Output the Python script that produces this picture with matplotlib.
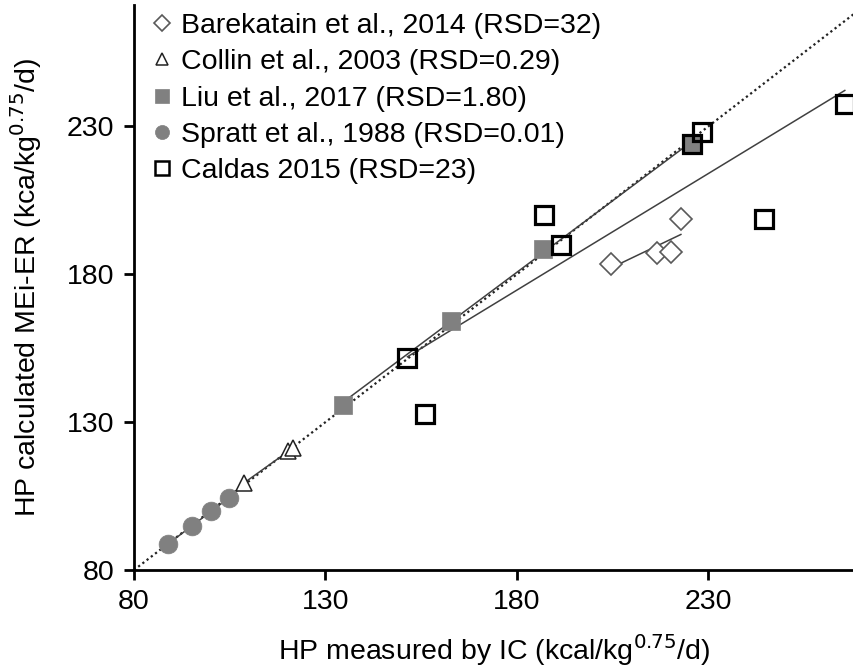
import numpy as np
import matplotlib
matplotlib.use("Agg")
import matplotlib.pyplot as plt

plt.rcParams['font.family'] = ['Liberation Sans', 'DejaVu Sans']

# measured (x) vs calculated (y), kcal/kg^0.75/d
bar_x = [204.5, 216.5, 220.1, 222.8]
bar_y = [183.6, 187.0, 187.4, 198.8]
col_x = [108.6, 120.1, 121.6]
col_y = [109.3, 120.1, 121.2]
liu_x = [134.5, 162.7, 186.7, 225.6]
liu_y = [135.9, 164.1, 188.6, 223.9]
spr_x = [88.8, 95.2, 100.0, 104.9]
spr_y = [88.7, 94.9, 99.9, 104.4]
cal_x = [151.4, 156.0, 187.0, 191.5, 225.6, 228.4, 244.6, 265.6]
cal_y = [151.7, 132.7, 200.0, 190.0, 223.9, 228.1, 198.8, 237.5]

labels = ["Barekatain et al., 2014 (RSD=32)",
          "Collin et al., 2003 (RSD=0.29)",
          "Liu et al., 2017 (RSD=1.80)",
          "Spratt et al., 1988 (RSD=0.01)",
          "Caldas 2015 (RSD=23)"]

FS = 20.5

fig = plt.figure(figsize=(8.54, 6.72), dpi=100)
ax = fig.add_axes([134 / 854, 102 / 672, 1 - 134 / 854, (570 - 5) / 672])

ax.axline((80, 80), slope=1, color='#222222', lw=1.6, ls=(0, (1, 1.4)), zorder=1)

# per-study regression lines
for xs, ys in [(bar_x, bar_y), (col_x, col_y), (liu_x, liu_y), (spr_x, spr_y), (cal_x, cal_y)]:
    m, b = np.polyfit(xs, ys, 1)
    xx = np.array([min(xs), max(xs)])
    ax.plot(xx, m * xx + b, color='#404040', lw=1.1, zorder=2)

ax.plot(bar_x, bar_y, 'D', ms=11.5, mfc='white', mec='#595959', mew=1.2, ls='none', label=labels[0], zorder=3)
ax.plot(col_x, col_y, '^', ms=12, mfc='white', mec='#222222', mew=1.1, ls='none', label=labels[1], zorder=3)
ax.plot(liu_x, liu_y, 's', ms=13, mfc='#808080', mec='#808080', mew=0.5, ls='none', label=labels[2], zorder=3)
ax.plot(spr_x, spr_y, 'o', ms=13.5, mfc='#808080', mec='#808080', mew=0.5, ls='none', label=labels[3], zorder=3)
ax.plot(cal_x, cal_y, 's', ms=12.5, mfc='none', mec='black', mew=2.3, ls='none', label=labels[4], zorder=4)

ax.set_xlim(80, 268)
ax.set_ylim(80, 271)
ax.set_xticks([80, 130, 180, 230])
ax.set_yticks([80, 130, 180, 230])
for s in ['top', 'right']:
    ax.spines[s].set_visible(False)
for s in ['left', 'bottom']:
    ax.spines[s].set_linewidth(2)
ax.tick_params(labelsize=FS, width=2, length=7, direction='out', pad=7)

ax.set_xlabel("HP measured by IC (kcal/kg$^{0.75}$/d)", fontsize=FS)
ax.set_ylabel("HP calculated MEi-ER (kca/kg$^{0.75}$/d)", fontsize=FS)
ax.xaxis.set_label_coords(0.5, -0.11)
ax.yaxis.set_label_coords(-0.125, 0.5)

leg = ax.legend(loc='upper left', bbox_to_anchor=(0.0, 1.016), frameon=False, fontsize=FS,
                markerscale=0.75, handlelength=0.75, handletextpad=0.3, labelspacing=0.36,
                borderaxespad=0.2)
for h in leg.legend_handles:
    h.set_markeredgewidth(min(h.get_markeredgewidth(), 1.8))

fig.savefig("out.png", dpi=100)
